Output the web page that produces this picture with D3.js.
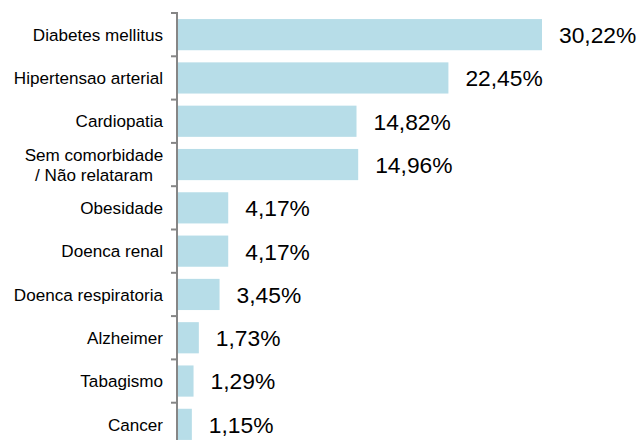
<!DOCTYPE html>
<html><head><meta charset="utf-8">
<script src="https://cdn.jsdelivr.net/npm/d3@7/dist/d3.min.js"></script>
<style>body{margin:0;background:#fff}svg{display:block}text{font-family:"Liberation Sans",Arial,sans-serif}</style>
</head><body>
<svg id="c" width="639" height="440"></svg>
<script>
const categories = ["Diabetes mellitus","Hipertensao arterial","Cardiopatia","Sem comorbidade\n/ Não relataram","Obesidade","Doenca renal","Doenca respiratoria","Alzheimer","Tabagismo","Cancer"];
const values = [30.22,22.45,14.82,14.96,4.17,4.17,3.45,1.73,1.29,1.15];
const valueLabels = ["30,22%","22,45%","14,82%","14,96%","4,17%","4,17%","3,45%","1,73%","1,29%","1,15%"];

(function(){
const svg = d3.select("#c");
const axisX = 178, yTop = 13, yBottom = 446;
const y = d3.scaleBand().domain(categories).range([yTop, yBottom]).paddingInner(0.28).paddingOuter(0.14);
const x = d3.scaleLinear().domain([0, 30.22]).range([axisX, 542]);

svg.selectAll("rect.bar").data(values).enter().append("rect")
  .attr("x", x(0)).attr("y", (d,i)=>y(categories[i]))
  .attr("width", d=>x(d)-x(0)).attr("height", y.bandwidth())
  .attr("fill", "#b7dde8");

svg.selectAll("text.val").data(values).enter().append("text")
  .attr("x", d=>x(d)+17).attr("y", (d,i)=>y(categories[i])+y.bandwidth()/2)
  .attr("dy","0.37em").attr("font-size", 22.8).attr("fill","#000")
  .text((d,i)=>valueLabels[i]);

const step = y.step();
svg.append("line").attr("x1",axisX-1).attr("x2",axisX-1).attr("y1",yTop).attr("y2",yBottom)
  .attr("stroke","#868686").attr("stroke-width",2);
d3.range(categories.length+1).forEach(i=>{
  const yy = yTop + i*step;
  svg.append("line").attr("x1",axisX-7).attr("x2",axisX).attr("y1",yy).attr("y2",yy)
    .attr("stroke","#868686").attr("stroke-width",2);
});

categories.forEach(c=>{
  const lines = c.split("\n");
  const cy = y(c)+y.bandwidth()/2;
  const t = svg.append("text").attr("font-size",17.1).attr("fill","#000");
  if(lines.length===1){
    t.attr("x",163).attr("y",cy).attr("dy","0.36em").attr("text-anchor","end").text(c);
  } else {
    t.attr("text-anchor","middle");
    lines.forEach((l,j)=>{
      t.append("tspan").attr("x",94).attr("y",cy + (j-(lines.length-1)/2)*20).attr("dy","0.36em").text(l);
    });
  }
});
})();
</script>
</body></html>
